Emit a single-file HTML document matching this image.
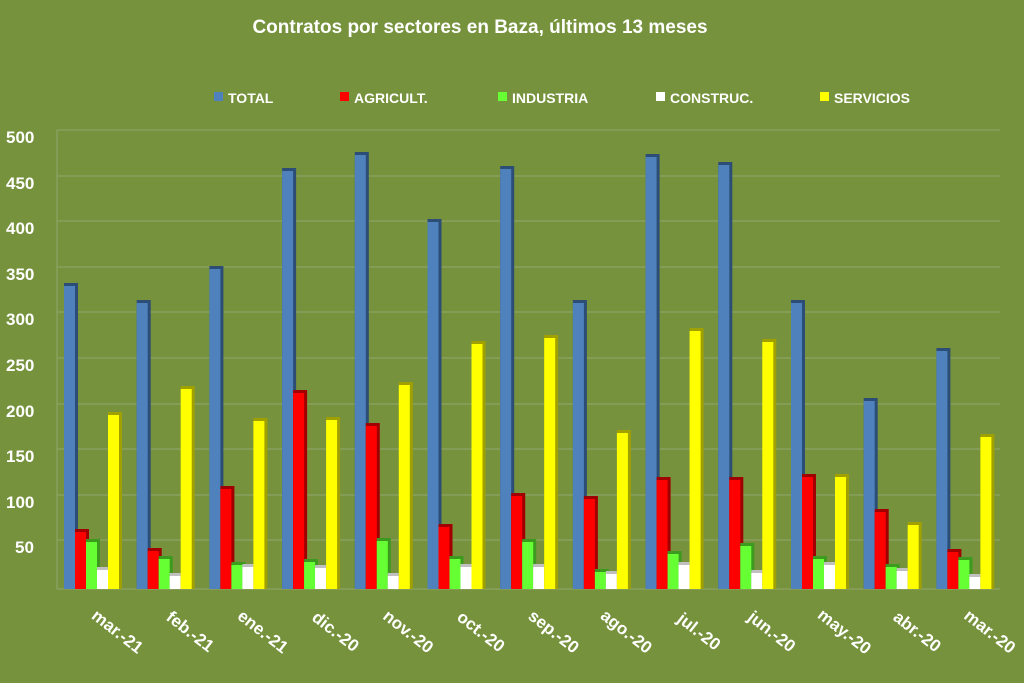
<!DOCTYPE html><html><head><style>body{margin:0}svg text{font-family:"Liberation Sans",sans-serif;font-weight:bold;fill:#fff}
.a{fill:#2c4d75}.A{fill:#4f81bd}.b{fill:#a00000}.B{fill:#ff0000}.c{fill:#3c9a1e}.C{fill:#66ff33}.d{fill:#c0c0c0}.D{fill:#ffffff}.e{fill:#a0a000}.E{fill:#ffff00}</style></head><body>
<svg width="1024" height="683" xmlns="http://www.w3.org/2000/svg">
<rect width="1024" height="683" fill="#76923c"/>
<text x="480" y="33" font-size="19" text-anchor="middle">Contratos por sectores en Baza, últimos 13 meses</text>
<g font-size="14">
<rect x="214" y="92" width="9" height="9" fill="#4f81bd"/><text x="228" y="103">TOTAL</text>
<rect x="340" y="92" width="9" height="9" fill="#ff0000"/><text x="354" y="103">AGRICULT.</text>
<rect x="498" y="92" width="9" height="9" fill="#66ff33"/><text x="512" y="103">INDUSTRIA</text>
<rect x="656" y="92" width="9" height="9" fill="#ffffff"/><text x="670" y="103">CONSTRUC.</text>
<rect x="820" y="92" width="9" height="9" fill="#ffff00"/><text x="834" y="103">SERVICIOS</text>
</g>
<g stroke="#8aa060" stroke-width="1.5" fill="none">
<line x1="57" y1="130" x2="1000" y2="130"/><line x1="57" y1="176" x2="1000" y2="176"/><line x1="57" y1="221" x2="1000" y2="221"/><line x1="57" y1="267" x2="1000" y2="267"/><line x1="57" y1="312" x2="1000" y2="312"/><line x1="57" y1="358" x2="1000" y2="358"/><line x1="57" y1="404" x2="1000" y2="404"/><line x1="57" y1="449" x2="1000" y2="449"/><line x1="57" y1="495" x2="1000" y2="495"/><line x1="57" y1="540" x2="1000" y2="540"/><line x1="57" y1="589" x2="1000" y2="589"/><line x1="57" y1="130" x2="57" y2="589"/>
</g>
<g font-size="17">
<text x="6" y="143">500</text><text x="6" y="189">450</text><text x="6" y="234">400</text><text x="6" y="280">350</text><text x="6" y="325">300</text><text x="6" y="371">250</text><text x="6" y="417">200</text><text x="6" y="462">150</text><text x="6" y="508">100</text><text x="15" y="553">50</text>
</g>
<g font-size="17">
<g transform="translate(64,0)">
<rect class="a" x="0" y="283" width="14" height="306"/><rect class="A" x="0" y="286" width="11" height="303"/>
<rect class="b" x="11" y="529" width="14" height="60"/><rect class="B" x="11" y="532" width="11" height="57"/>
<rect class="c" x="22" y="539" width="14" height="50"/><rect class="C" x="22" y="542" width="11" height="47"/>
<rect class="d" x="33" y="567" width="14" height="22"/><rect class="D" x="33" y="570" width="11" height="19"/>
<rect class="e" x="44" y="412" width="14" height="177"/><rect class="E" x="44" y="415" width="11" height="174"/>
<text x="50" y="636" text-anchor="middle" transform="rotate(38 50 636)">mar.-21</text></g>
<g transform="translate(136.7,0)">
<rect class="a" x="0" y="300" width="14" height="289"/><rect class="A" x="0" y="303" width="11" height="286"/>
<rect class="b" x="11" y="548" width="14" height="41"/><rect class="B" x="11" y="551" width="11" height="38"/>
<rect class="c" x="22" y="556" width="14" height="33"/><rect class="C" x="22" y="559" width="11" height="30"/>
<rect class="d" x="33" y="573" width="14" height="16"/><rect class="D" x="33" y="576" width="11" height="13"/>
<rect class="e" x="44" y="386" width="14" height="203"/><rect class="E" x="44" y="389" width="11" height="200"/>
<text x="50" y="636" text-anchor="middle" transform="rotate(38 50 636)">feb.-21</text></g>
<g transform="translate(209.4,0)">
<rect class="a" x="0" y="266" width="14" height="323"/><rect class="A" x="0" y="269" width="11" height="320"/>
<rect class="b" x="11" y="486" width="14" height="103"/><rect class="B" x="11" y="489" width="11" height="100"/>
<rect class="c" x="22" y="562" width="14" height="27"/><rect class="C" x="22" y="565" width="11" height="24"/>
<rect class="d" x="33" y="564" width="14" height="25"/><rect class="D" x="33" y="567" width="11" height="22"/>
<rect class="e" x="44" y="418" width="14" height="171"/><rect class="E" x="44" y="421" width="11" height="168"/>
<text x="50" y="636" text-anchor="middle" transform="rotate(38 50 636)">ene.-21</text></g>
<g transform="translate(282.1,0)">
<rect class="a" x="0" y="168" width="14" height="421"/><rect class="A" x="0" y="171" width="11" height="418"/>
<rect class="b" x="11" y="390" width="14" height="199"/><rect class="B" x="11" y="393" width="11" height="196"/>
<rect class="c" x="22" y="559" width="14" height="30"/><rect class="C" x="22" y="562" width="11" height="27"/>
<rect class="d" x="33" y="565" width="14" height="24"/><rect class="D" x="33" y="568" width="11" height="21"/>
<rect class="e" x="44" y="417" width="14" height="172"/><rect class="E" x="44" y="420" width="11" height="169"/>
<text x="50" y="636" text-anchor="middle" transform="rotate(38 50 636)">dic.-20</text></g>
<g transform="translate(354.8,0)">
<rect class="a" x="0" y="152" width="14" height="437"/><rect class="A" x="0" y="155" width="11" height="434"/>
<rect class="b" x="11" y="423" width="14" height="166"/><rect class="B" x="11" y="426" width="11" height="163"/>
<rect class="c" x="22" y="538" width="14" height="51"/><rect class="C" x="22" y="541" width="11" height="48"/>
<rect class="d" x="33" y="573" width="14" height="16"/><rect class="D" x="33" y="576" width="11" height="13"/>
<rect class="e" x="44" y="382" width="14" height="207"/><rect class="E" x="44" y="385" width="11" height="204"/>
<text x="50" y="636" text-anchor="middle" transform="rotate(38 50 636)">nov.-20</text></g>
<g transform="translate(427.5,0)">
<rect class="a" x="0" y="219" width="14" height="370"/><rect class="A" x="0" y="222" width="11" height="367"/>
<rect class="b" x="11" y="524" width="14" height="65"/><rect class="B" x="11" y="527" width="11" height="62"/>
<rect class="c" x="22" y="556" width="14" height="33"/><rect class="C" x="22" y="559" width="11" height="30"/>
<rect class="d" x="33" y="564" width="14" height="25"/><rect class="D" x="33" y="567" width="11" height="22"/>
<rect class="e" x="44" y="341" width="14" height="248"/><rect class="E" x="44" y="344" width="11" height="245"/>
<text x="50" y="636" text-anchor="middle" transform="rotate(38 50 636)">oct.-20</text></g>
<g transform="translate(500.2,0)">
<rect class="a" x="0" y="166" width="14" height="423"/><rect class="A" x="0" y="169" width="11" height="420"/>
<rect class="b" x="11" y="493" width="14" height="96"/><rect class="B" x="11" y="496" width="11" height="93"/>
<rect class="c" x="22" y="539" width="14" height="50"/><rect class="C" x="22" y="542" width="11" height="47"/>
<rect class="d" x="33" y="564" width="14" height="25"/><rect class="D" x="33" y="567" width="11" height="22"/>
<rect class="e" x="44" y="335" width="14" height="254"/><rect class="E" x="44" y="338" width="11" height="251"/>
<text x="50" y="636" text-anchor="middle" transform="rotate(38 50 636)">sep.-20</text></g>
<g transform="translate(572.9,0)">
<rect class="a" x="0" y="300" width="14" height="289"/><rect class="A" x="0" y="303" width="11" height="286"/>
<rect class="b" x="11" y="496" width="14" height="93"/><rect class="B" x="11" y="499" width="11" height="90"/>
<rect class="c" x="22" y="569" width="14" height="20"/><rect class="C" x="22" y="572" width="11" height="17"/>
<rect class="d" x="33" y="571" width="14" height="18"/><rect class="D" x="33" y="574" width="11" height="15"/>
<rect class="e" x="44" y="430" width="14" height="159"/><rect class="E" x="44" y="433" width="11" height="156"/>
<text x="50" y="636" text-anchor="middle" transform="rotate(38 50 636)">ago.-20</text></g>
<g transform="translate(645.6,0)">
<rect class="a" x="0" y="154" width="14" height="435"/><rect class="A" x="0" y="157" width="11" height="432"/>
<rect class="b" x="11" y="477" width="14" height="112"/><rect class="B" x="11" y="480" width="11" height="109"/>
<rect class="c" x="22" y="551" width="14" height="38"/><rect class="C" x="22" y="554" width="11" height="35"/>
<rect class="d" x="33" y="562" width="14" height="27"/><rect class="D" x="33" y="565" width="11" height="24"/>
<rect class="e" x="44" y="328" width="14" height="261"/><rect class="E" x="44" y="331" width="11" height="258"/>
<text x="50" y="636" text-anchor="middle" transform="rotate(38 50 636)">jul.-20</text></g>
<g transform="translate(718.3,0)">
<rect class="a" x="0" y="162" width="14" height="427"/><rect class="A" x="0" y="165" width="11" height="424"/>
<rect class="b" x="11" y="477" width="14" height="112"/><rect class="B" x="11" y="480" width="11" height="109"/>
<rect class="c" x="22" y="543" width="14" height="46"/><rect class="C" x="22" y="546" width="11" height="43"/>
<rect class="d" x="33" y="570" width="14" height="19"/><rect class="D" x="33" y="573" width="11" height="16"/>
<rect class="e" x="44" y="339" width="14" height="250"/><rect class="E" x="44" y="342" width="11" height="247"/>
<text x="50" y="636" text-anchor="middle" transform="rotate(38 50 636)">jun.-20</text></g>
<g transform="translate(791,0)">
<rect class="a" x="0" y="300" width="14" height="289"/><rect class="A" x="0" y="303" width="11" height="286"/>
<rect class="b" x="11" y="474" width="14" height="115"/><rect class="B" x="11" y="477" width="11" height="112"/>
<rect class="c" x="22" y="556" width="14" height="33"/><rect class="C" x="22" y="559" width="11" height="30"/>
<rect class="d" x="33" y="562" width="14" height="27"/><rect class="D" x="33" y="565" width="11" height="24"/>
<rect class="e" x="44" y="474" width="14" height="115"/><rect class="E" x="44" y="477" width="11" height="112"/>
<text x="50" y="636" text-anchor="middle" transform="rotate(38 50 636)">may.-20</text></g>
<g transform="translate(863.7,0)">
<rect class="a" x="0" y="398" width="14" height="191"/><rect class="A" x="0" y="401" width="11" height="188"/>
<rect class="b" x="11" y="509" width="14" height="80"/><rect class="B" x="11" y="512" width="11" height="77"/>
<rect class="c" x="22" y="564" width="14" height="25"/><rect class="C" x="22" y="567" width="11" height="22"/>
<rect class="d" x="33" y="568" width="14" height="21"/><rect class="D" x="33" y="571" width="11" height="18"/>
<rect class="e" x="44" y="522" width="14" height="67"/><rect class="E" x="44" y="525" width="11" height="64"/>
<text x="50" y="636" text-anchor="middle" transform="rotate(38 50 636)">abr.-20</text></g>
<g transform="translate(936.4,0)">
<rect class="a" x="0" y="348" width="14" height="241"/><rect class="A" x="0" y="351" width="11" height="238"/>
<rect class="b" x="11" y="549" width="14" height="40"/><rect class="B" x="11" y="552" width="11" height="37"/>
<rect class="c" x="22" y="557" width="14" height="32"/><rect class="C" x="22" y="560" width="11" height="29"/>
<rect class="d" x="33" y="574" width="14" height="15"/><rect class="D" x="33" y="577" width="11" height="12"/>
<rect class="e" x="44" y="434" width="14" height="155"/><rect class="E" x="44" y="437" width="11" height="152"/>
<text x="50" y="636" text-anchor="middle" transform="rotate(38 50 636)">mar.-20</text></g>
</g>
</svg></body></html>
